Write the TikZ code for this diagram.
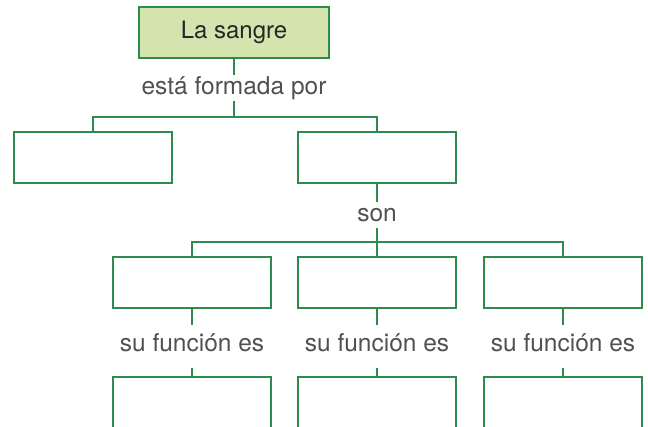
\documentclass[tikz,border=0pt]{standalone}
\usepackage{fontspec}
\setmainfont{TeX Gyre Heros}
\usetikzlibrary{%
    positioning
}
\definecolor{leafgreen}{HTML}{2E8B4E}
\definecolor{paleleaf}{HTML}{D3E4AE}
\definecolor{labelgrey}{HTML}{505050}
\tikzset{
    blank/.style={draw=leafgreen, line width=1.2pt, minimum width=158pt,
        minimum height=51pt, inner sep=0pt},
    title/.style={blank, fill=paleleaf, minimum width=190pt,
        font=\fontsize{24}{28}\selectfont, text=black!85},
    link/.style={anchor=base, inner sep=0pt, text height=20pt, text depth=6pt,
        font=\fontsize{24.5}{28}\selectfont, text=labelgrey},
    funclink/.style={link, text height=27pt, text depth=16pt},
    wire/.style={draw=leafgreen, line width=1.2pt}
}

\begin{document}
\begin{tikzpicture}[x=1pt, y=-1pt]
    \useasboundingbox (0,0) rectangle (648,427);

    \node[title] (sangre)  at (234,32.5)  {La sangre};
    \node[link]  (formada) at (234,95)    {está formada por};
    \node[blank] (plasma)  at (93,157.5)  {};
    \node[blank] (celulas) at (377,157.5) {};
    \node[link]  (son)     at (377,222)   {son};

    \coordinate (split)  at (234,117);
    \coordinate (branch) at (377,242);

    \draw[wire] (sangre) -- (formada);
    \draw[wire] (formada) -- (split);
    \draw[wire] (plasma.north) |- (split) -| (celulas.north);
    \draw[wire] (celulas) -- (son);
    \draw[wire] (son) -- (branch);

    \foreach \Name/\X in {rojos/192, blancos/377, plaquetas/563} {
        \node[blank]    (\Name)    at (\X,282.5) {};
        \node[funclink] (\Name-es) at (\X,352)   {su función es};
        \node[blank]    (\Name-fn) at (\X,402.5) {};
        \draw[wire] (\Name) -- (\Name-es);
        \draw[wire] (\Name-es) -- (\Name-fn);
    }

    \draw[wire] (rojos.north) |- (branch) -| (plaquetas.north);
    \draw[wire] (branch) -- (blancos);
\end{tikzpicture}
\end{document}
